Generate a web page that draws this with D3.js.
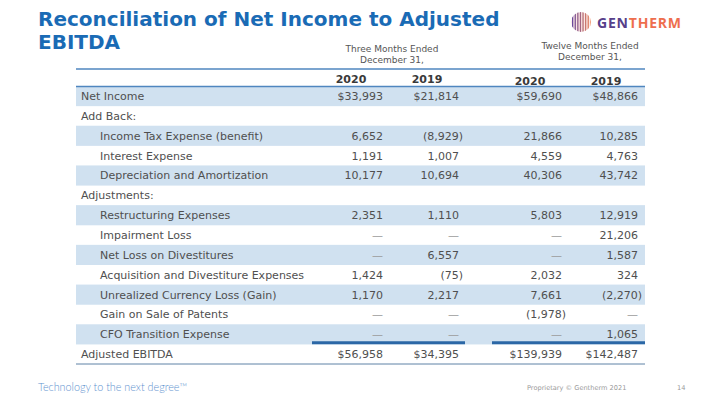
<!DOCTYPE html>
<html><head><meta charset="utf-8">
<script src="https://cdn.jsdelivr.net/npm/d3@7"></script>
<style>html,body{margin:0;padding:0;background:#fff;}svg{display:block;}</style>
</head><body>
<svg id="c" width="720" height="405"></svg>
<script>
// ---- data ----
const rowLabels = ["Net Income","Add Back:","Income Tax Expense (benefit)","Interest Expense","Depreciation and Amortization","Adjustments:","Restructuring Expenses","Impairment Loss","Net Loss on Divestitures","Acquisition and Divestiture Expenses","Unrealized Currency Loss (Gain)","Gain on Sale of Patents","CFO Transition Expense","Adjusted EBITDA"];
const rowIndent = [0,0,1,1,1,0,1,1,1,1,1,1,1,0];
const dollarRows = [0,13];
// null = section header (blank), 0 = dash
const q4_2020 = [33993,null,6652,1191,10177,null,2351,0,0,1424,1170,0,0,56958];
const q4_2019 = [21814,null,-8929,1007,10694,null,1110,0,6557,-75,2217,0,0,34395];
const fy_2020 = [59690,null,21866,4559,40306,null,5803,0,0,2032,7661,-1978,0,139939];
const fy_2019 = [48866,null,10285,4763,43742,null,12919,21206,1587,324,-2270,0,1065,142487];
const yearLabels = ["2020","2019","2020","2019"];
const groupLabels = [["Three Months Ended","December 31,"],["Twelve Months Ended","December 31,"]];
const title = ["Reconciliation of Net Income to Adjusted","EBITDA"];

const svg = d3.select("#c");
const FONT = "'DejaVu Sans', Verdana, sans-serif";
const textCol = "#4f4f4f";

// scales
const left = 76, right = 645;
const y = d3.scaleBand().domain(d3.range(rowLabels.length)).range([86, 364]);
const colRight = d3.scaleOrdinal().domain([0,1,2,3]).range([383,459,562,638]);
const groupCenter = d3.scaleOrdinal().domain([0,1]).range([392,590]);

// title
svg.append("g").selectAll("text").data(title).join("text")
  .attr("x",38).attr("y",(d,i)=>26+i*23)
  .attr("font-family",FONT).attr("font-weight","bold").attr("font-size",20)
  .attr("fill","#1a6bb5").text(d=>d);

// logo
const logo = svg.append("g").attr("transform","translate(581,22)");
const defs = svg.append("defs");
defs.append("clipPath").attr("id","lc").append("circle").attr("r",10);
const lg = logo.append("g").attr("clip-path","url(#lc)");
lg.append("circle").attr("r",10).attr("fill","#fbe7e4");
lg.selectAll("rect").data(d3.range(-9,10,2.6)).join("rect")
  .attr("x",d=>d).attr("y",-10).attr("width",1.3).attr("height",20)
  .attr("fill",(d,i)=>d3.interpolateRgb("#6a4a9c","#f08a5d")(i/7));
const lt = svg.append("text").attr("x",597).attr("y",28)
  .attr("font-family","'Open Sans', sans-serif").attr("font-weight","bold").attr("font-size",14).attr("letter-spacing",0.8);
lt.append("tspan").attr("fill","#57408a").text("GEN");
lt.append("tspan").attr("fill","#ee6e4e").text("THERM");

// group headers
groupLabels.forEach((g,gi)=>{
  svg.append("g").selectAll("text").data(g).join("text")
    .attr("x",groupCenter(gi)).attr("y",(d,i)=>(gi===0?52:49)+i*10.5)
    .attr("text-anchor","middle").attr("font-family",FONT).attr("font-size",9)
    .attr("fill","#555").text(d=>d);
});

// bands
svg.append("g").selectAll("rect").data(d3.range(rowLabels.length).filter(i=>i%2===0)).join("rect")
  .attr("x",left).attr("width",right-left).attr("y",d=>y(d)).attr("height",y.bandwidth()+0.3)
  .attr("fill","#d0e1f0");

// header lines
svg.append("line").attr("x1",left).attr("x2",right).attr("y1",69).attr("y2",69).attr("stroke","#4f86bf").attr("stroke-width",1.5);
svg.append("line").attr("x1",left).attr("x2",right).attr("y1",86.5).attr("y2",86.5).attr("stroke","#4f86bf").attr("stroke-width",1.5);

// year labels
svg.append("g").selectAll("text").data(yearLabels).join("text")
  .attr("x",(d,i)=>colRight(i)-32).attr("y",(d,i)=>i<2?83:85)
  .attr("text-anchor","middle").attr("font-family",FONT).attr("font-weight","bold").attr("font-size",11)
  .attr("fill","#3a3a3a").text(d=>d);

// row labels
svg.append("g").selectAll("text").data(rowLabels).join("text")
  .attr("x",(d,i)=>rowIndent[i]?100:81).attr("y",(d,i)=>y(i)+y.bandwidth()/2+4)
  .attr("font-family",FONT).attr("font-size",11).attr("fill",textCol).text(d=>d);

// values
const fmt = d3.format(",");
function cell(v,i){
  if(v===null) return "";
  if(v===0) return "—";
  const s = fmt(Math.abs(v));
  const pre = dollarRows.includes(i)?"$":"";
  return v<0?"("+pre+s+")":pre+s;
}
[q4_2020,q4_2019,fy_2020,fy_2019].forEach((series,ci)=>{
  svg.append("g").selectAll("text").data(series).join("text")
    .attr("x",(d,i)=>colRight(ci)+(d<0?4:0)).attr("y",(d,i)=>y(i)+y.bandwidth()/2+4)
    .attr("text-anchor","end").attr("font-family",FONT).attr("font-size",11)
    .attr("fill",d=>d===0?"#9a9a9a":textCol).text((d,i)=>cell(d,i));
});

// total underlines
const lastRow = rowLabels.length-1;
[[312,465],[492,645]].forEach(([a,b])=>{
  svg.append("line").attr("x1",a).attr("x2",b).attr("y1",y(lastRow)-1.5).attr("y2",y(lastRow)-1.5)
    .attr("stroke","#2b67a6").attr("stroke-width",3);
});
svg.append("line").attr("x1",left).attr("x2",right).attr("y1",364).attr("y2",364).attr("stroke","#5f82a6").attr("stroke-width",1);

// footer
svg.append("text").attr("x",38).attr("y",391).attr("font-family","Lato, sans-serif").attr("font-weight",300)
  .attr("font-size",10.8).attr("fill","#5f93cf").text("Technology to the next degree™");
svg.append("text").attr("x",527).attr("y",390).attr("font-family",FONT).attr("font-size",6.6)
  .attr("fill","#9a9a9a").text("Proprietary © Gentherm 2021");
svg.append("text").attr("x",677).attr("y",390).attr("font-family",FONT).attr("font-size",6.6)
  .attr("fill","#9a9a9a").text("14");
</script>
</body></html>
